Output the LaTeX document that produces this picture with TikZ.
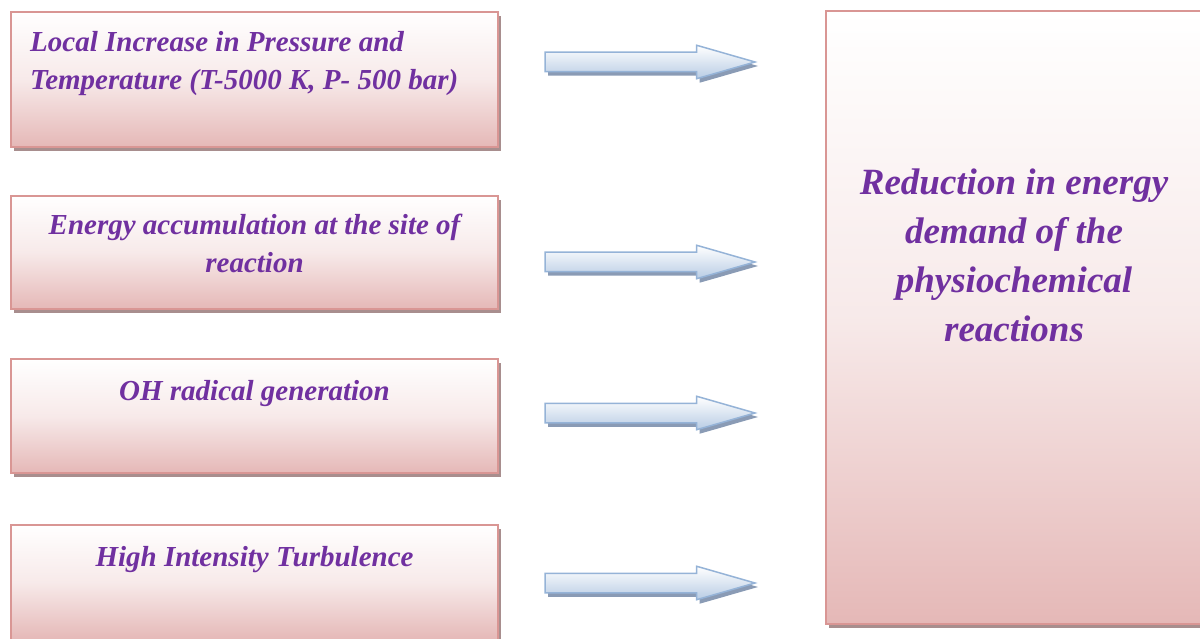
\documentclass[tikz,border=0pt]{standalone}
\usepackage{fontspec}
\setmainfont{Liberation Serif}
\usetikzlibrary{positioning,shapes.arrows,shadows}

\definecolor{boxpink}{HTML}{E5B8B7}
\definecolor{boxline}{HTML}{D99694}
\definecolor{boxshade}{HTML}{A88E8E}
\definecolor{txtpurple}{HTML}{7030A0}
\definecolor{arrblue}{HTML}{B8CCE4}
\definecolor{arrline}{HTML}{95B3D7}
\definecolor{arrshade}{HTML}{8A9BB5}

\tikzset{
  causebox/.style={draw=boxline, line width=2pt, top color=white, bottom color=boxpink,
    middle color=white!70!boxpink, anchor=north west, minimum width=487pt, inner sep=0pt,
    drop shadow={shadow xshift=3pt, shadow yshift=-4pt, fill=boxshade, opacity=1}},
  causetext/.style={text=txtpurple, font=\fontsize{29}{38}\selectfont\bfseries\itshape,
    align=center, inner sep=0pt},
  flowarrow/.style={single arrow, draw=arrline, line width=1.5pt, top color=white,
    bottom color=arrblue, minimum height=210pt, inner xsep=0pt, inner ysep=9pt,
    single arrow head extend=7pt, single arrow tip angle=32,
    drop shadow={shadow xshift=3pt, shadow yshift=-4pt, fill=arrshade, opacity=1}},
}

\begin{document}
\begin{tikzpicture}[x=1pt, y=-1pt]
  \clip (0,0) rectangle (1200,639);
  % causes
  \node[causebox, minimum height=135pt] (b1) at (10,11) {};
  \node[causebox, minimum height=113pt] (b2) at (10,195) {};
  \node[causebox, minimum height=114pt] (b3) at (10,358) {};
  \node[causebox, minimum height=115pt] (b4) at (10,524) {};
  \node[causetext, align=left, below right=20pt and 20pt of b1.north west] (t1)
    {Local Increase in Pressure and\\Temperature (T-5000 K, P- 500 bar)};
  \node[causetext, below=19pt of b2.north] (t2)
    {Energy accumulation at the site of\\reaction};
  \node[causetext, below=22pt of b3.north] (t3) {OH radical generation};
  \node[causetext, below=22pt of b4.north] (t4) {High Intensity Turbulence};
  % effect
  \node[causebox, minimum width=380pt, minimum height=613pt] (res) at (825,10) {};
  \node[text=txtpurple, font=\fontsize{37}{49}\selectfont\bfseries\itshape, align=center]
    (rt) at (1014,255) {Reduction in energy\\demand of the\\physiochemical\\reactions};
  % arrows
  \node[flowarrow] (a1) at (633,62) {};
  \node[flowarrow] (a2) at (633,262) {};
  \node[flowarrow] (a3) at (633,413) {};
  \node[flowarrow] (a4) at (633,583) {};
\end{tikzpicture}
\end{document}
